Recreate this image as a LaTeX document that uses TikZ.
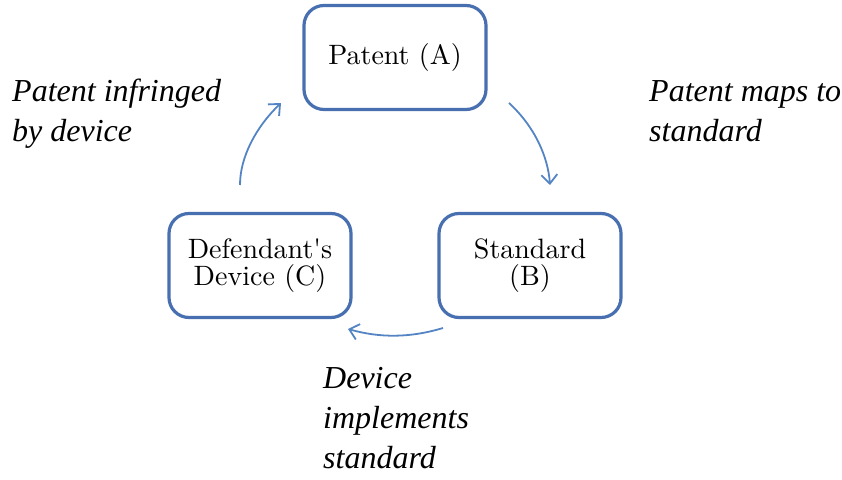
\documentclass[tikz,border=0pt]{standalone}
\usepackage{fontspec}
\newfontfamily\labfont{Liberation Serif}
\newfontfamily\boxfont{lmroman10-regular}[Extension=.otf]
\usetikzlibrary{arrows.meta}
\definecolor{boxblue}{RGB}{72,112,176}
\definecolor{arrowblue}{RGB}{84,132,196}
\begin{document}
\begin{tikzpicture}[x=1pt,y=1pt,
  boxnode/.style={draw=boxblue, line width=3.2pt, rounded corners=20pt,
    minimum width=182pt, minimum height=104pt, align=center, inner sep=0pt,
    font=\boxfont\fontsize{28}{26.5}\selectfont},
  labnode/.style={anchor=base west, inner sep=0pt, align=left,
    font=\labfont\itshape\fontsize{32}{40}\selectfont},
  flow/.style={draw=arrowblue, line width=1.8pt,
    -{Straight Barb[length=9pt,width=16pt,line width=1.8pt]}}]
\useasboundingbox (0,0) rectangle (842,479);
\node[boxnode] (A) at (395,421.5) {Patent (A)};
\node[boxnode] (C) at (260,213.5) {Defendant's\\Device (C)};
\node[boxnode] (B) at (530,213.5) {Standard\\(B)};
\coordinate (a1) at (509,376);
\coordinate (a2) at (550,294);
\coordinate (b1) at (443,151);
\coordinate (b2) at (348,150);
\coordinate (c1) at (240,294);
\coordinate (c2) at (281,376);
\draw[flow] (a1) .. controls (535,352) and (548,322) .. (a2);
\draw[flow] (b1) .. controls (410,141) and (380,141) .. (b2);
\draw[flow] (c1) .. controls (240,322) and (256,352) .. (c2);
\node[labnode] (LA) at (12,337) {Patent infringed\\by device};
\node[labnode] (LB) at (649,337) {Patent maps to\\standard};
\node[labnode] (LC) at (323,11) {Device\\implements\\standard};
\end{tikzpicture}
\end{document}
